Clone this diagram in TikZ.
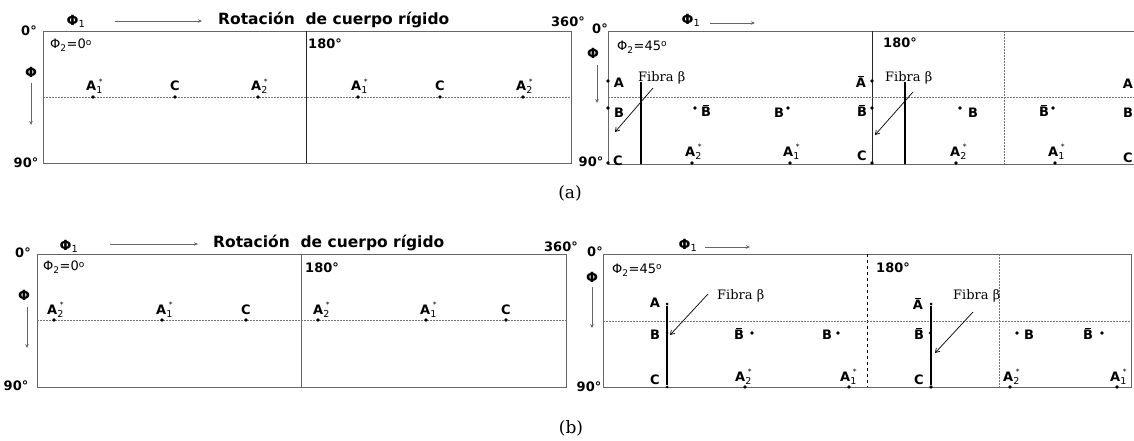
\documentclass[tikz,border=0pt]{standalone}
\usepackage{fontspec}
\setmainfont{DejaVu Sans}
\newfontfamily\serifface{DejaVu Serif}
\usetikzlibrary{arrows.meta}

\newcommand{\astar}[1]{A\rlap{\raisebox{-3pt}{\mdseries\fontsize{9.5}{9.5}\selectfont #1}}\raisebox{6.5pt}{\kern2.5pt\mdseries\fontsize{7.5}{7.5}\selectfont *}}
\newcommand{\barred}[1]{\leavevmode\setbox0\hbox{#1}\rlap{\hbox to\wd0{\hss\raisebox{\dimexpr\ht0+1.5pt\relax}{\rule{0.55\wd0}{0.9pt}}\hss}}\box0}
\newcommand{\phiangle}[2]{Φ\textsubscript{#1}=#2\raisebox{3.5pt}{\fontsize{9}{9}\selectfont o}}

\begin{document}
\begin{tikzpicture}[
    x=1pt, y=-1pt,
    frame/.style={draw=black!60, line width=0.9pt},
    divider/.style={draw=black!85, line width=0.8pt},
    guide/.style={draw=black!55, dash pattern=on 2pt off 1pt, line width=0.7pt},
    lab/.style={font=\bfseries\fontsize{13}{13}\selectfont, inner sep=0pt},
    pt/.style={circle, fill=black, inner sep=0pt, minimum size=3.8pt},
    fibre/.style={line width=2.4pt},
    axisarrow/.style={draw=black!60, line width=0.8pt, -{Stealth[length=4pt,width=3.5pt]}},
    pointer/.style={line width=0.7pt, -{Straight Barb[length=4pt,width=5pt]}},
    tag/.style={font=\serifface\fontsize{13}{13}\selectfont, inner sep=0pt},
    note/.style={font=\fontsize{13}{13}\selectfont, inner sep=0pt, anchor=west},
    title/.style={font=\bfseries\fontsize{15.5}{15.5}\selectfont, inner sep=0pt, anchor=west}
]
\useasboundingbox (0,0) rectangle (1134,441);

% ---------- (a) left: Phi2 = 0
\draw[frame] (43,31) rectangle (571,163);
\draw[divider] (306,31) -- (306,163);
\draw[guide] (43,97) -- (571,97);
\node[lab] (a0) at (29,31) {0°};
\node[lab] (a90) at (26,163) {90°};
\node[lab] (a360) at (568,22) {360°};
\node[lab, anchor=west] (a180) at (308,44) {180°};
\node[lab, font=\bfseries\fontsize{14}{14}\selectfont] (aphi) at (31,72) {Φ};
\node[lab, font=\bfseries\fontsize{14}{14}\selectfont] (aphi1) at (76,21) {Φ\textsubscript{\mdseries 1}};
\node[title] (arot) at (218,20) {Rotación~~de cuerpo rígido};
\node[note] (aphi2) at (50,45) {\phiangle{2}{0}};
\coordinate (aphi1-s) at (115,21);
\coordinate (aphi1-e) at (202,21);
\coordinate (aphi-s) at (31,83);
\coordinate (aphi-e) at (31,125);
\draw[axisarrow] (aphi1-s) -- (aphi1-e);
\draw[axisarrow] (aphi-s) -- (aphi-e);
\foreach \x/\dx/\t [count=\i] in {93/-7/\astar{1}, 175/-5/C, 258/-7/\astar{2},
                                  358/-7/\astar{1}, 440/-5/C, 523/-7/\astar{2}} {
  \node[pt] (pa\i) at (\x,97) {};
  \node[lab, anchor=base west] (la\i) at (\x+\dx,91) {\t};
}

% ---------- (a) right: Phi2 = 45
\draw[frame] (1134,31) -- (608,31) -- (608,164) -- (1134,164);
\draw[divider] (872,31) -- (872,164);
\draw[guide] (1004,31) -- (1004,164);
\draw[guide] (608,97) -- (1134,97);
\node[lab] (b0) at (600,29) {0°};
\node[lab] (b90) at (591,162) {90°};
\node[lab, font=\bfseries\fontsize{14}{14}\selectfont] (bphi) at (593,53) {Φ};
\node[lab, font=\bfseries\fontsize{14}{14}\selectfont] (bphi1) at (691,20) {Φ\textsubscript{\mdseries 1}};
\node[note] (bphi2) at (617,47) {\phiangle{2}{45}};
\node[lab, anchor=west] (b180) at (883,43) {180°};
\coordinate (bphi1-s) at (710,23);
\coordinate (bphi1-e) at (755,23);
\coordinate (bphi-s) at (597,65);
\coordinate (bphi-e) at (597,103);
\draw[axisarrow] (bphi1-s) -- (bphi1-e);
\draw[axisarrow] (bphi-s) -- (bphi-e);
% first half
\node[pt] (bA) at (608,81) {};
\node[pt] (bB) at (608,108) {};
\node[pt] (bC) at (608,163) {};
\node[lab] (lbA) at (619,83) {A};
\node[lab] (lbB) at (619,113) {B};
\node[lab] (lbC) at (618,161) {C};
\coordinate (bfib-t) at (641,82);
\coordinate (bfib-b) at (641,164);
\draw[fibre] (bfib-t) -- (bfib-b);
\node[tag, anchor=west] (bfibra) at (638,78) {Fibra β};
\coordinate (bptr-s) at (653,88);
\coordinate (bptr-e) at (615,132);
\draw[pointer] (bptr-s) -- (bptr-e);
\node[pt] (bBb) at (695,108) {};
\node[lab] (lbBb) at (706,111) {\barred{B}};
\node[pt] (bB2) at (788,108) {};
\node[lab] (lbB2) at (779,113) {B};
\node[pt] (bA2) at (692,163) {};
\node[lab, anchor=base west] (lbA2) at (685,156) {\astar{2}};
\node[pt] (bA1) at (790,163) {};
\node[lab, anchor=base west] (lbA1) at (783,156) {\astar{1}};
% second half
\node[pt] (cA) at (872,81) {};
\node[pt] (cB) at (872,108) {};
\node[pt] (cC) at (872,163) {};
\node[lab] (lcA) at (861,82) {\barred{A}};
\node[lab] (lcB) at (862,111) {\barred{B}};
\node[lab] (lcC) at (862,156) {C};
\coordinate (cfib-t) at (905,82);
\coordinate (cfib-b) at (905,164);
\draw[fibre] (cfib-t) -- (cfib-b);
\node[tag, anchor=west] (cfibra) at (885,78) {Fibra β};
\coordinate (cptr-s) at (913,92);
\coordinate (cptr-e) at (875,135);
\draw[pointer] (cptr-s) -- (cptr-e);
\node[pt] (cB2) at (960,108) {};
\node[lab] (lcB2) at (973,113) {B};
\node[pt] (cA2) at (956,163) {};
\node[lab, anchor=base west] (lcA2) at (950,156) {\astar{2}};
\node[pt] (cBb) at (1053,108) {};
\node[lab] (lcBb) at (1044,111) {\barred{B}};
\node[pt] (cA1) at (1055,163) {};
\node[lab, anchor=base west] (lcA1) at (1048,156) {\astar{1}};
\node[lab] (dA) at (1128,84) {A};
\node[lab] (dB) at (1128,113) {B};
\node[lab] (dC) at (1128,158) {C};
\node[tag, font=\serifface\fontsize{17}{17}\selectfont] (capa) at (570,193) {(a)};

% ---------- (b) left: Phi2 = 0
\draw[frame] (37,254) rectangle (566,387);
\draw[frame] (301,254) -- (301,387);
\draw[guide] (37,320) -- (566,320);
\node[lab] (e0) at (23,253) {0°};
\node[lab] (e90) at (16,386) {90°};
\node[lab] (e360) at (561,247) {360°};
\node[lab, anchor=west] (e180) at (305,268) {180°};
\node[lab, font=\bfseries\fontsize{14}{14}\selectfont] (ephi) at (24,295) {Φ};
\node[lab, font=\bfseries\fontsize{14}{14}\selectfont] (ephi1) at (69,246) {Φ\textsubscript{\mdseries 1}};
\node[title] (erot) at (213,243) {Rotación~~de cuerpo rígido};
\node[note] (ephi2) at (43,267) {\phiangle{2}{0}};
\coordinate (ephi1-s) at (110,244);
\coordinate (ephi1-e) at (198,244);
\coordinate (ephi-s) at (27,307);
\coordinate (ephi-e) at (27,348);
\draw[axisarrow] (ephi1-s) -- (ephi1-e);
\draw[axisarrow] (ephi-s) -- (ephi-e);
\foreach \x/\dx/\t [count=\i] in {54/-7/\astar{2}, 162/-6/\astar{1}, 246/-5/C,
                                  318/-5/\astar{2}, 426/-6/\astar{1}, 506/-5/C} {
  \node[pt] (pe\i) at (\x,320) {};
  \node[lab, anchor=base west] (le\i) at (\x+\dx,314) {\t};
}

% ---------- (b) right: Phi2 = 45
\draw[frame] (603,254) rectangle (1131,387);
\draw[black, dashed, line width=0.8pt] (867,254) -- (867,387);
\draw[guide] (999,254) -- (999,387);
\draw[guide] (603,321) -- (1131,321);
\node[lab] (f0) at (595,252) {0°};
\node[lab] (f90) at (589,387) {90°};
\node[lab, font=\bfseries\fontsize{14}{14}\selectfont] (fphi) at (592,277) {Φ};
\node[lab, font=\bfseries\fontsize{14}{14}\selectfont] (fphi1) at (688,245) {Φ\textsubscript{\mdseries 1}};
\node[note] (fphi2) at (612,270) {\phiangle{2}{45}};
\node[lab, anchor=west] (f180) at (876,268) {180°};
\coordinate (fphi1-s) at (705,247);
\coordinate (fphi1-e) at (750,247);
\coordinate (fphi-s) at (592,287);
\coordinate (fphi-e) at (592,328);
\draw[axisarrow] (fphi1-s) -- (fphi1-e);
\draw[axisarrow] (fphi-s) -- (fphi-e);
% first half
\node[pt, minimum size=3pt] (fA) at (667,304) {};
\node[pt, minimum size=3pt] (fB) at (667,333) {};
\node[pt, minimum size=3pt] (fC) at (667,387) {};
\draw[fibre] (fA) -- (fC);
\node[lab] (lfA) at (655,303) {A};
\node[lab] (lfB) at (655,335) {B};
\node[lab] (lfC) at (655,380) {C};
\node[tag, anchor=west] (ffibra) at (717,296) {Fibra β};
\coordinate (fptr-s) at (708,294);
\coordinate (fptr-e) at (670,335);
\draw[pointer] (fptr-s) -- (fptr-e);
\node[pt] (fBb) at (752,333) {};
\node[lab] (lfBb) at (739,334) {\barred{B}};
\node[pt] (fB2) at (838,333) {};
\node[lab] (lfB2) at (827,335) {B};
\node[pt] (fA2) at (745,387) {};
\node[lab, anchor=base west] (lfA2) at (735,381) {\astar{2}};
\node[pt] (fA1) at (849,387) {};
\node[lab, anchor=base west] (lfA1) at (840,381) {\astar{1}};
% second half
\node[pt, minimum size=3pt] (gA) at (931,304) {};
\node[pt, minimum size=3pt] (gB) at (930,333) {};
\node[pt] (gC) at (931,387) {};
\draw[fibre] (gA) -- (gC);
\node[lab] (lgA) at (918,304) {\barred{A}};
\node[lab] (lgB) at (919,334) {\barred{B}};
\node[lab] (lgC) at (919,380) {C};
\node[tag, anchor=west] (gfibra) at (953,296) {Fibra β};
\coordinate (gptr-s) at (973,312);
\coordinate (gptr-e) at (935,353);
\draw[pointer] (gptr-s) -- (gptr-e);
\node[pt] (gB2) at (1017,333) {};
\node[lab] (lgB2) at (1029,335) {B};
\node[pt] (gBb) at (1102,333) {};
\node[lab] (lgBb) at (1088,334) {\barred{B}};
\node[pt] (gA2) at (1010,387) {};
\node[lab, anchor=base west] (lgA2) at (1003,381) {\astar{2}};
\node[pt] (gA1) at (1117,387) {};
\node[lab, anchor=base west] (lgA1) at (1110,381) {\astar{1}};
\node[tag, font=\serifface\fontsize{17}{17}\selectfont] (capb) at (571,428) {(b)};

\end{tikzpicture}
\end{document}
